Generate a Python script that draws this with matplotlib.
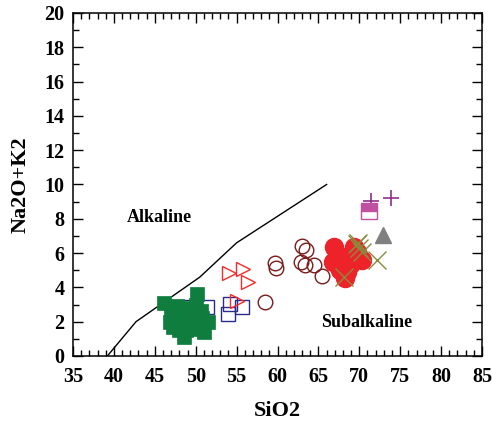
import numpy as np
import matplotlib
matplotlib.use("Agg")
import matplotlib.pyplot as plt
import matplotlib.ticker as ticker

plt.rcParams['font.family'] = ['Liberation Serif', 'DejaVu Serif']
plt.rcParams['font.weight'] = 'bold'

# Irvine & Baragar style divider (SiO2, Na2O+K2O)
line_x = [39.2, 42.7, 50.5, 55.0, 66.0]
line_y = [0.0, 2.0, 4.6, 6.6, 10.0]

# sample groups
green_x = [46.1, 46.8, 47.0, 47.7, 48.3, 48.6, 49.0, 49.5, 50.0, 50.2, 50.6, 51.0, 51.5, 49.3,
           47.5, 48.0, 49.8, 50.8, 47.2, 48.8]
green_y = [3.1, 2.0, 2.6, 2.9, 1.9, 1.1, 2.3, 1.6, 3.0, 3.6, 2.6, 1.4, 2.0, 2.8,
           2.2, 1.5, 2.1, 2.2, 1.7, 1.5]

blue_x = [48.5, 51.4, 54.2, 53.9, 55.6]
blue_y = [2.86, 2.87, 3.03, 2.45, 2.87]

tri_x = [54.1, 55.8, 56.45, 55.1]
tri_y = [4.84, 5.07, 4.29, 3.2]

ring_x = [59.75, 59.85, 63.05, 63.5, 62.9, 63.4, 64.4, 65.4, 58.5]
ring_y = [5.42, 5.11, 6.42, 6.18, 5.48, 5.31, 5.31, 4.65, 3.12]

dot_x = [66.9, 69.35, 66.8, 67.6, 68.9, 69.7, 68.25, 70.3, 68.5, 67.9]
dot_y = [6.33, 6.37, 5.5, 5.0, 5.3, 6.06, 4.55, 5.6, 4.9, 5.8]

cross_x = [69.7, 70.3, 72.2, 68.1, 69.8, 70.0]
cross_y = [6.53, 6.06, 5.6, 4.6, 6.6, 6.3]

plus_x = [71.4, 73.9]
plus_y = [9.04, 9.2]

half_x = [71.15]
half_y = [8.45]

grey_x = [72.9]
grey_y = [7.06]

fig = plt.figure(figsize=(4.92, 4.36), dpi=100)
ax = fig.add_axes([0.1484, 0.1835, 0.8313, 0.7867])

ax.plot(line_x, line_y, color='black', lw=1.0)

ax.plot(blue_x, blue_y, 's', ms=10.6, mfc='none', mec='#2b2b8c', mew=1.0)
ax.plot(green_x, green_y, 's', ms=10.4, mfc='#0f7d3e', mec='#0f7d3e', mew=0.5)
ax.plot(tri_x, tri_y, '>', ms=10.5, mfc='none', mec='#f52a2a', mew=1.0)
ax.plot(dot_x, dot_y, 'o', ms=13, mfc='#ee2229', mec='#ee2229')
ax.plot(ring_x, ring_y, 'o', ms=10.5, mfc='none', mec='#7b1a1a', mew=1.0)
ax.plot(cross_x, cross_y, 'x', ms=13, color='#8a8a3c', mew=1.0)
ax.plot(plus_x, plus_y, '+', ms=11, color='#90308a', mew=1.2)
ax.plot(half_x, half_y, 's', ms=11.5, fillstyle='top', mfc='#c050a0',
        mfcalt='white', mec='#c050a0', mew=1.0)
ax.plot(grey_x, grey_y, '^', ms=11, mfc='#808080', mec='#808080')

ax.text(45.6, 8.1, 'Alkaline', fontsize=13, fontweight='bold', ha='center', va='center')
ax.text(70.9, 1.98, 'Subalkaline', fontsize=13, fontweight='bold', ha='center', va='center')

ax.set_xlim(35, 85)
ax.set_ylim(0, 20)
ax.xaxis.set_major_locator(ticker.MultipleLocator(5))
ax.xaxis.set_minor_locator(ticker.MultipleLocator(1))
ax.yaxis.set_major_locator(ticker.MultipleLocator(2))
ax.yaxis.set_minor_locator(ticker.MultipleLocator(1))
ax.tick_params(which='both', direction='in', top=True, right=True, width=1.0, labelsize=14.5)
ax.tick_params(which='major', length=7)
ax.tick_params(which='minor', length=4.3)
ax.tick_params(axis='x', pad=8)
ax.tick_params(axis='y', pad=6)
for s in ax.spines.values():
    s.set_linewidth(1.1)
for lab in ax.get_xticklabels() + ax.get_yticklabels():
    lab.set_fontweight('bold')

ax.set_xlabel('SiO2', fontsize=16, fontweight='bold', labelpad=10)
ax.set_ylabel('Na2O+K2', fontsize=16, fontweight='bold', labelpad=10)

fig.savefig('out.png', dpi=100)
